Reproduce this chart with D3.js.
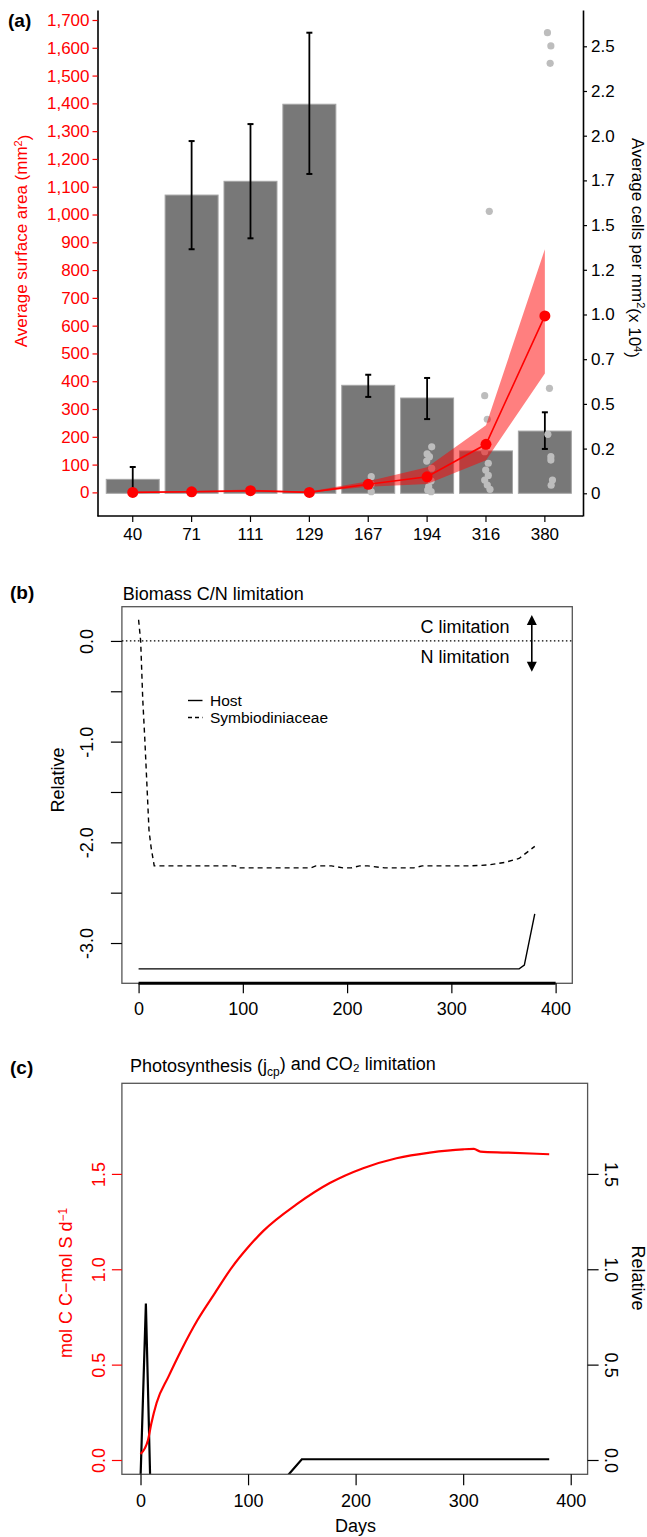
<!DOCTYPE html>
<html>
<head>
<meta charset="utf-8">
<script src="https://cdn.jsdelivr.net/npm/d3@7"></script>
<style>
  body { margin: 0; background: #fff; }
  text { font-family: "Liberation Sans", Arial, Helvetica, sans-serif; }
</style>
</head>
<body>
<div id="chart"></div>
<script>
// ---- panel (a) data ----
var days = ["40", "71", "111", "129", "167", "194", "316", "380"];
var cellsMean = [0.078, 1.668, 1.745, 2.176, 0.604, 0.533, 0.237, 0.348];
var cellsLo   = [0.0, 1.365, 1.426, 1.786, 0.539, 0.415, null, 0.248];
var cellsHi   = [0.147, 1.970, 2.065, 2.576, 0.663, 0.645, null, 0.453];
var areaMean = [0, 2, 6, 0, 29, 56, 173, 635];
var areaLo   = [0, 0, 1, 0, 20, 30, 116, 428];
var areaHi   = [2, 5, 10, 3, 40, 90, 242, 875];
var sampleDay = ["111", "167", "167", "167",
  "194", "194", "194", "194", "194", "194", "194", "194", "194", "194",
  "316", "316", "316", "316", "316", "316", "316", "316", "316", "316",
  "380", "380", "380", "380", "380", "380", "380", "380", "380"];
var sampleCells = [0.01, 0.093, 0.05, 0.009,
  0.26, 0.22, 0.205, 0.18, 0.14, 0.10, 0.07, 0.037, 0.018, 0.009,
  1.577, 0.546, 0.414, 0.233, 0.168, 0.13, 0.10, 0.074, 0.046, 0.022,
  2.576, 2.502, 2.405, 0.587, 0.33, 0.205, 0.186, 0.074, 0.045];
var leftTicks = [0, 100, 200, 300, 400, 500, 600, 700, 800, 900, 1000, 1100, 1200, 1300, 1400, 1500, 1600, 1700];
var rightTicks = [0, 0.25, 0.5, 0.75, 1, 1.25, 1.5, 1.75, 2, 2.25, 2.5];
var rightTickLabels = ["0", "0.2", "0.5", "0.7", "1.0", "1.2", "1.5", "1.7", "2.0", "2.2", "2.5"];

// ---- panel (b) data ----
var symbDays = [0, 2, 4, 6, 10, 12, 15, 60, 93, 95, 165, 170, 185, 196, 204, 212, 220, 236, 264, 272, 319, 335, 351, 365, 380];
var symbVal = [0.21, 0, -0.58, -0.98, -1.88, -2.05, -2.234, -2.234, -2.234, -2.254, -2.254, -2.234, -2.234, -2.254, -2.254, -2.234, -2.234, -2.254, -2.254, -2.234, -2.234, -2.225, -2.20, -2.16, -2.04];
var hostDays = [0, 365, 370, 380];
var hostVal = [-3.257, -3.257, -3.22, -2.71];
var bXTicks = [0, 100, 200, 300, 400];
var bYTicks = [0, -0.5, -1, -1.5, -2, -2.5, -3];

// ---- panel (c) data ----
var photoDays = [0, 4, 7, 10, 15, 26, 38, 53, 69, 85, 100, 114, 145, 176, 207, 238, 269, 300, 310, 316, 340, 380];
var photoVal = [0.031, 0.061, 0.105, 0.19, 0.30, 0.437, 0.577, 0.734, 0.874, 1.01, 1.115, 1.20, 1.34, 1.452, 1.530, 1.582, 1.612, 1.629, 1.631, 1.617, 1.612, 1.603];
var co2Days = [0, 5, 9, 134, 150, 380];
var co2Val = [-0.1, 0.82, -0.1, -0.1, 0.004, 0.004];
var cXTicks = [0, 100, 200, 300, 400];
var cYTicks = [0, 0.5, 1, 1.5];

var W = 647, H = 1537;
var FS = 17;   // panel (a)
var FS2 = 18;  // panels (b), (c)
var svg = d3.select("#chart").append("svg").attr("width", W).attr("height", H);

function styleAxis(g, color, size) {
  g.attr("font-size", size || FS).attr("font-family", "Liberation Sans, Arial, sans-serif");
  g.selectAll(".tick line").attr("stroke", color).attr("stroke-width", 1.2);
  g.selectAll(".tick text").attr("fill", color);
}

// =================== panel (a) ===================
var a = {left: 97.5, right: 583, top: 10, bottom: 516};
var xA = d3.scaleBand().domain(days).range([103.3, 574.3]).paddingInner(0.1).paddingOuter(0.05);
var yL = d3.scaleLinear().domain([-85, 1736]).range([a.bottom, a.top]);
var yR = d3.scaleLinear().domain([-0.127, 2.703]).range([a.bottom, a.top]);
var bw = xA.bandwidth();
var cx = function(d) { return xA(d) + bw / 2; };

var gA = svg.append("g");
gA.selectAll(".bar").data(days).enter().append("rect")
  .attr("x", function(d) { return xA(d); })
  .attr("width", bw)
  .attr("y", function(d, i) { return yR(cellsMean[i]); })
  .attr("height", function(d, i) { return yR(0) - yR(cellsMean[i]); })
  .attr("fill", "#787878")
  .attr("stroke", "#a5a5a5")
  .attr("stroke-width", 1);

// error bars
days.forEach(function(d, i) {
  if (cellsLo[i] == null) return;
  var x = cx(d);
  gA.append("line").attr("x1", x).attr("x2", x)
    .attr("y1", yR(cellsLo[i])).attr("y2", yR(cellsHi[i]))
    .attr("stroke", "#000").attr("stroke-width", 1.8);
  [cellsLo[i], cellsHi[i]].forEach(function(v) {
    gA.append("line").attr("x1", x - 3).attr("x2", x + 3)
      .attr("y1", yR(v)).attr("y2", yR(v))
      .attr("stroke", "#000").attr("stroke-width", 2);
  });
});

// individual samples
var jitter = [-2, 3, 3, 3,
  4.6, 0, 2.3, -0.4, 4.6, 0.6, 4, 1.6, 0.6, 4,
  3.3, -1.3, 1.3, -1.3, 2.3, -0.3, 2.3, -1.3, 1.3, 4,
  2.6, 6, 5.3, 4.6, 3, 6, 6, 7.6, 6.3];
gA.selectAll(".dot").data(sampleDay).enter().append("circle")
  .attr("cx", function(d, i) { return cx(d) + jitter[i]; })
  .attr("cy", function(d, i) { return yR(sampleCells[i]); })
  .attr("r", 3.6)
  .attr("fill", "#bdbdbd");

// surface area band + line
var idx = d3.range(days.length);
gA.append("path")
  .attr("d", d3.area()
    .x(function(i) { return cx(days[i]); })
    .y0(function(i) { return yL(areaLo[i]); })
    .y1(function(i) { return yL(areaHi[i]); })(idx))
  .attr("fill", "#ff0000").attr("fill-opacity", 0.5);
gA.append("path")
  .attr("d", d3.line()
    .x(function(i) { return cx(days[i]); })
    .y(function(i) { return yL(areaMean[i]); })(idx))
  .attr("fill", "none").attr("stroke", "#ff0000").attr("stroke-width", 1.6);
gA.selectAll(".pt").data(idx).enter().append("circle")
  .attr("cx", function(i) { return cx(days[i]); })
  .attr("cy", function(i) { return yL(areaMean[i]); })
  .attr("r", 5.5).attr("fill", "#ff0000");

// axes (a)
var gAL = svg.append("g").attr("transform", "translate(" + a.left + ",0)")
  .call(d3.axisLeft(yL).tickValues(leftTicks).tickFormat(d3.format(","))
    .tickSizeInner(5).tickSizeOuter(0).tickPadding(3));
styleAxis(gAL, "#ff0000");
gAL.select(".domain").attr("stroke", "#000").attr("stroke-width", 1.6);

var gAR = svg.append("g").attr("transform", "translate(" + a.right + ",0)")
  .call(d3.axisRight(yR).tickValues(rightTicks)
    .tickFormat(function(d, i) { return rightTickLabels[i]; })
    .tickSizeInner(4).tickSizeOuter(0).tickPadding(4));
styleAxis(gAR, "#000");
gAR.select(".domain").attr("stroke", "#000").attr("stroke-width", 1.6);

var gAB = svg.append("g").attr("transform", "translate(0," + a.bottom + ")")
  .call(d3.axisBottom(xA).tickSizeInner(6).tickSizeOuter(0).tickPadding(6));
styleAxis(gAB, "#000");
gAB.select(".domain").remove();
gAB.append("line").attr("x1", a.left).attr("x2", a.right).attr("y1", 0).attr("y2", 0)
  .attr("stroke", "#000").attr("stroke-width", 1.6);

var tl = svg.append("text").attr("transform", "translate(27,241) rotate(-90)")
  .attr("text-anchor", "middle").attr("fill", "#ff0000").attr("font-size", FS);
tl.append("tspan").text("Average surface area (mm");
tl.append("tspan").attr("dy", "-0.45em").attr("font-size", 11).text("2");
tl.append("tspan").attr("dy", "0.45em").text(")");

var tr = svg.append("text").attr("transform", "translate(632,248) rotate(90)")
  .attr("text-anchor", "middle").attr("fill", "#000").attr("font-size", FS);
tr.append("tspan").text("Average cells per mm");
tr.append("tspan").attr("dy", "-0.45em").attr("font-size", 11).text("2");
tr.append("tspan").attr("dy", "0.45em").text("(x 10");
tr.append("tspan").attr("dy", "-0.45em").attr("font-size", 11).text("4");
tr.append("tspan").attr("dy", "0.45em").text(")");

svg.append("text").attr("x", 8).attr("y", 27).attr("font-size", 19).attr("font-weight", "bold").text("(a)");

// =================== panel (b) ===================
var b = {left: 121.9, right: 572.3, top: 606.7, bottom: 983.3};
var xB = d3.scaleLinear().domain([-16, 416]).range([b.left, b.right]);
var yB = d3.scaleLinear().domain([-3.40, 0.34]).range([b.bottom, b.top]);

svg.append("rect").attr("x", b.left).attr("y", b.top)
  .attr("width", b.right - b.left).attr("height", b.bottom - b.top)
  .attr("fill", "none").attr("stroke", "#555").attr("stroke-width", 1.3);

svg.append("line").attr("x1", b.left).attr("x2", b.right)
  .attr("y1", yB(0)).attr("y2", yB(0))
  .attr("stroke", "#000").attr("stroke-width", 1.2).attr("stroke-dasharray", "1.5,2.5");

var gBB = svg.append("g").attr("transform", "translate(0," + b.bottom + ")")
  .call(d3.axisBottom(xB).tickValues(bXTicks).tickFormat(d3.format("d"))
    .tickSizeInner(10).tickSizeOuter(0).tickPadding(9));
styleAxis(gBB, "#000", FS2);
gBB.select(".domain").remove();
gBB.append("line").attr("x1", xB(0)).attr("x2", xB(400)).attr("y1", 0).attr("y2", 0)
  .attr("stroke", "#000").attr("stroke-width", 3);

var gBL = svg.append("g").attr("transform", "translate(" + b.left + ",0)")
  .call(d3.axisLeft(yB).tickValues(bYTicks)
    .tickFormat(function(d) { return d % 1 === 0 ? d.toFixed(1) : ""; })
    .tickSizeInner(11).tickSizeOuter(0));
styleAxis(gBL, "#000", FS2);
gBL.select(".domain").remove();
gBL.selectAll(".tick text").attr("transform", "rotate(-90)")
  .attr("x", 0).attr("y", -29).attr("dy", 0).attr("text-anchor", "middle");

var lineB = d3.line().x(function(d) { return xB(d[0]); }).y(function(d) { return yB(d[1]); });
svg.append("path").attr("d", lineB(d3.zip(symbDays, symbVal)))
  .attr("fill", "none").attr("stroke", "#000").attr("stroke-width", 1.4).attr("stroke-dasharray", "5,4");
svg.append("path").attr("d", lineB(d3.zip(hostDays, hostVal)))
  .attr("fill", "none").attr("stroke", "#000").attr("stroke-width", 1.4);

svg.append("text").attr("x", 122.7).attr("y", 600).attr("font-size", FS2).text("Biomass C/N limitation");
svg.append("text").attr("x", 10).attr("y", 599).attr("font-size", 19).attr("font-weight", "bold").text("(b)");
svg.append("text").attr("transform", "translate(64,780) rotate(-90)")
  .attr("text-anchor", "middle").attr("font-size", FS2).text("Relative");

svg.append("text").attr("x", 509.5).attr("y", 632.5).attr("text-anchor", "end").attr("font-size", FS2).text("C limitation");
svg.append("text").attr("x", 509.5).attr("y", 662.5).attr("text-anchor", "end").attr("font-size", FS2).text("N limitation");
var arrX = 531.8;
[[yB(0), 615], [yB(0), 671.7]].forEach(function(p) {
  var dir = p[1] < p[0] ? 1 : -1;
  svg.append("line").attr("x1", arrX).attr("x2", arrX).attr("y1", p[0]).attr("y2", p[1] + dir * 4)
    .attr("stroke", "#000").attr("stroke-width", 1.6);
  svg.append("path")
    .attr("d", "M" + arrX + "," + p[1] + "L" + (arrX - 5) + "," + (p[1] + dir * 10) + "L" + (arrX + 5) + "," + (p[1] + dir * 10) + "Z")
    .attr("fill", "#000");
});

// legend
svg.append("line").attr("x1", 188).attr("x2", 202.5).attr("y1", 700.5).attr("y2", 700.5)
  .attr("stroke", "#000").attr("stroke-width", 1.4);
svg.append("line").attr("x1", 188).attr("x2", 202.5).attr("y1", 717.5).attr("y2", 717.5)
  .attr("stroke", "#000").attr("stroke-width", 1.4).attr("stroke-dasharray", "4,3");
svg.append("text").attr("x", 210).attr("y", 706).attr("font-size", 15.5).text("Host");
svg.append("text").attr("x", 210).attr("y", 723).attr("font-size", 15.5).text("Symbiodiniaceae");

// =================== panel (c) ===================
var c = {left: 121.9, right: 587.6, top: 1083.3, bottom: 1474.3};
var xC = d3.scaleLinear().domain([-17.3, 415.7]).range([c.left, c.right]);
var yC = d3.scaleLinear().domain([-0.075, 1.975]).range([c.bottom, c.top]);
var yC2 = d3.scaleLinear().domain([-0.075, 1.975]).range([c.bottom, c.top]);

svg.append("defs").append("clipPath").attr("id", "clipC").append("rect")
  .attr("x", c.left).attr("y", c.top).attr("width", c.right - c.left).attr("height", c.bottom - c.top);

var lineC = d3.line().curve(d3.curveMonotoneX)
  .x(function(d) { return xC(d[0]); }).y(function(d) { return yC(d[1]); });
var lineC2 = d3.line().x(function(d) { return xC(d[0]); }).y(function(d) { return yC2(d[1]); });
var gC = svg.append("g").attr("clip-path", "url(#clipC)");
gC.append("path").attr("d", lineC2(d3.zip(co2Days, co2Val)))
  .attr("fill", "none").attr("stroke", "#000").attr("stroke-width", 2.2);
gC.append("path").attr("d", lineC(d3.zip(photoDays, photoVal)))
  .attr("fill", "none").attr("stroke", "#ff0000").attr("stroke-width", 2.2);

svg.append("rect").attr("x", c.left).attr("y", c.top)
  .attr("width", c.right - c.left).attr("height", c.bottom - c.top)
  .attr("fill", "none").attr("stroke", "#555").attr("stroke-width", 1.3);

var gCB = svg.append("g").attr("transform", "translate(0," + c.bottom + ")")
  .call(d3.axisBottom(xC).tickValues(cXTicks).tickFormat(d3.format("d"))
    .tickSizeInner(11).tickSizeOuter(0).tickPadding(9));
styleAxis(gCB, "#000", FS2);
gCB.select(".domain").remove();

var gCL = svg.append("g").attr("transform", "translate(" + c.left + ",0)")
  .call(d3.axisLeft(yC).tickValues(cYTicks).tickFormat(d3.format(".1f"))
    .tickSizeInner(10).tickSizeOuter(0));
styleAxis(gCL, "#ff0000", FS2);
gCL.select(".domain").remove();
gCL.selectAll(".tick text").attr("transform", "rotate(-90)")
  .attr("x", 0).attr("y", -17).attr("dy", 0).attr("text-anchor", "middle");

var gCR = svg.append("g").attr("transform", "translate(" + c.right + ",0)")
  .call(d3.axisRight(yC2).tickValues(cYTicks).tickFormat(d3.format(".1f"))
    .tickSizeInner(11).tickSizeOuter(0));
styleAxis(gCR, "#000", FS2);
gCR.select(".domain").remove();
gCR.selectAll(".tick text").attr("transform", "rotate(90)")
  .attr("x", 0).attr("y", -17).attr("dy", 0).attr("text-anchor", "middle");

var tc = svg.append("text").attr("x", 130).attr("y", 1072).attr("font-size", FS2);
tc.append("tspan").text("Photosynthesis (j");
tc.append("tspan").attr("dy", "0.3em").attr("font-size", 12).text("cp");
tc.append("tspan").attr("dy", "-0.3em").text(") and CO\u2082 limitation");
svg.append("text").attr("x", 10).attr("y", 1074).attr("font-size", 19).attr("font-weight", "bold").text("(c)");

var ylc = svg.append("text").attr("transform", "translate(72,1283) rotate(-90)")
  .attr("text-anchor", "middle").attr("fill", "#ff0000").attr("font-size", FS2);
ylc.append("tspan").text("mol C C\u2212mol S d");
ylc.append("tspan").attr("dy", "-0.45em").attr("font-size", 12).text("\u22121");

svg.append("text").attr("transform", "translate(632,1278) rotate(90)")
  .attr("text-anchor", "middle").attr("font-size", FS2).text("Relative");
svg.append("text").attr("x", xC(200)).attr("y", 1532).attr("text-anchor", "middle")
  .attr("font-size", FS2).text("Days");
</script>
</body>
</html>
